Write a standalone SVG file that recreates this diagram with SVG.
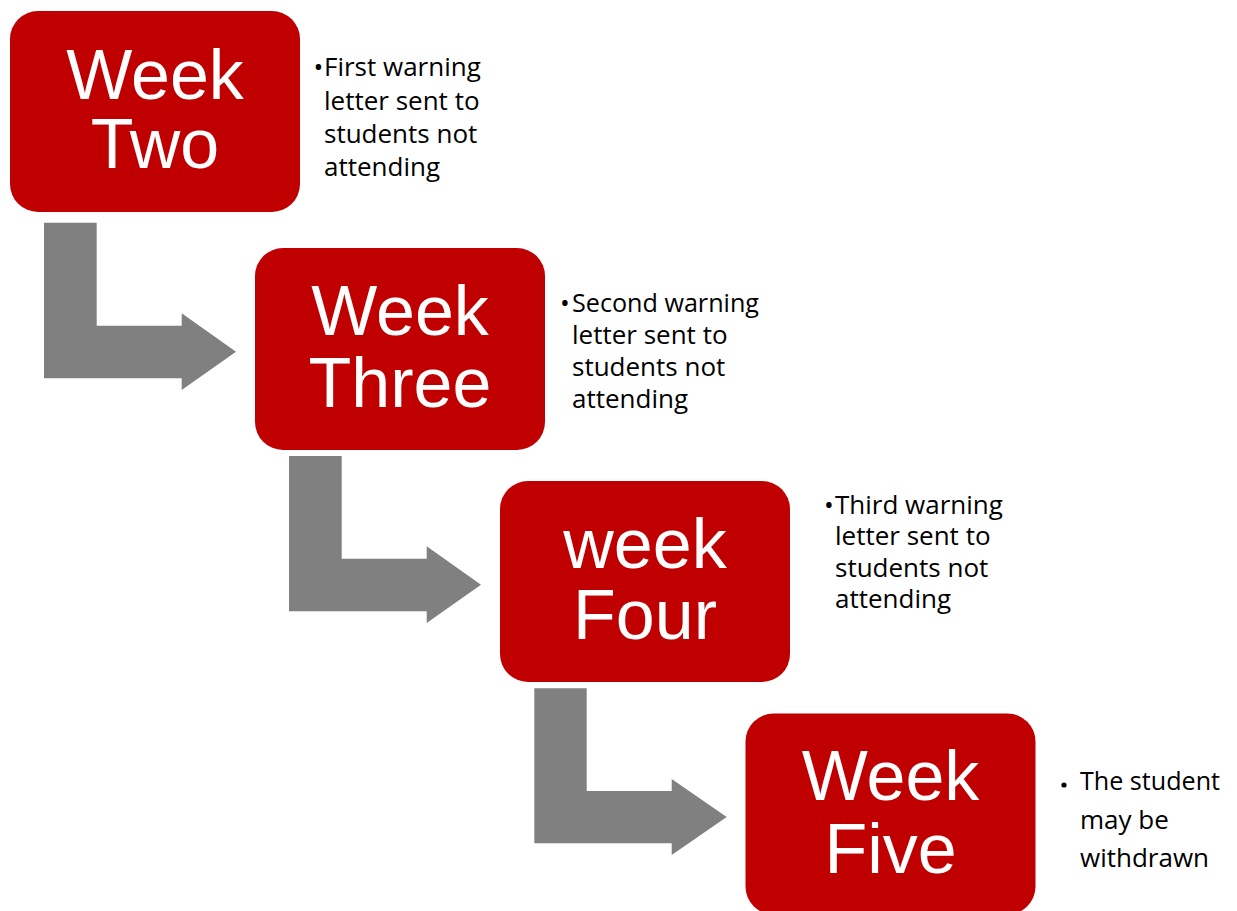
<svg xmlns="http://www.w3.org/2000/svg" width="1237" height="911" viewBox="0 0 1237 911">
<style>
.box{fill:#C00000;}
.arr{fill:#808080;}
.big{font-family:"Liberation Sans",Arial,sans-serif;font-size:70px;fill:#FFFFFF;text-anchor:middle;}
.note{font-family:"Open Sans","Noto Sans",sans-serif;font-size:26px;fill:#000000;}
</style>
<rect width="1237" height="911" fill="#FFFFFF"/>
<g id="connectors">
<path class="arr" d="M44,222.7 H96.7 V325.7 H181.7 V313.3 L236,351.7 L181.7,390 V378.3 H44 Z"/>
<path class="arr" d="M289,456 H341.7 V558.7 H426.7 V546.3 L481,584.7 L426.7,623 V611.3 H289 Z"/>
<path class="arr" d="M534.3,688.3 H586.7 V791 H671.7 V779 L726.7,817 L671.7,855 V843.3 H534.3 Z"/>
</g>
<g id="week-two">
<rect class="box" x="10" y="11" width="290" height="201" rx="28"/>
<text class="big" x="155" y="98.5">Week</text>
<text class="big" x="155" y="168">Two</text>
</g>
<g id="note-two">
<text class="note" x="313.5" y="76">•</text>
<text class="note" x="324" y="76">First warning</text>
<text class="note" x="324" y="109.5">letter sent to</text>
<text class="note" x="324" y="143">students not</text>
<text class="note" x="324" y="176">attending</text>
</g>
<g id="week-three">
<rect class="box" x="255" y="248" width="290" height="202" rx="28"/>
<text class="big" x="400" y="335">Week</text>
<text class="big" x="400" y="406.5">Three</text>
</g>
<g id="note-three">
<text class="note" x="560" y="311.5">•</text>
<text class="note" x="572" y="311.5" textLength="187" lengthAdjust="spacingAndGlyphs">Second warning</text>
<text class="note" x="572" y="343.5">letter sent to</text>
<text class="note" x="572" y="376">students not</text>
<text class="note" x="572" y="408">attending</text>
</g>
<g id="week-four">
<rect class="box" x="500" y="481" width="290" height="201" rx="28"/>
<text class="big" x="645" y="567.5">week</text>
<text class="big" x="645" y="639">Four</text>
</g>
<g id="note-four">
<text class="note" x="824" y="513.5">•</text>
<text class="note" x="835" y="513.5">Third warning</text>
<text class="note" x="835" y="545">letter sent to</text>
<text class="note" x="835" y="577">students not</text>
<text class="note" x="835" y="608">attending</text>
</g>
<g id="week-five">
<rect class="box" x="745.5" y="713.5" width="290" height="201" rx="28"/>
<text class="big" x="890.5" y="800">Week</text>
<text class="big" x="890.5" y="872.5">Five</text>
</g>
<g id="note-five">
<circle cx="1064" cy="785" r="2.6" fill="#000000"/>
<text class="note" x="1080" y="789.5" textLength="140" lengthAdjust="spacingAndGlyphs">The student</text>
<text class="note" x="1080" y="828.5">may be</text>
<text class="note" x="1080" y="867">withdrawn</text>
</g>
</svg>
